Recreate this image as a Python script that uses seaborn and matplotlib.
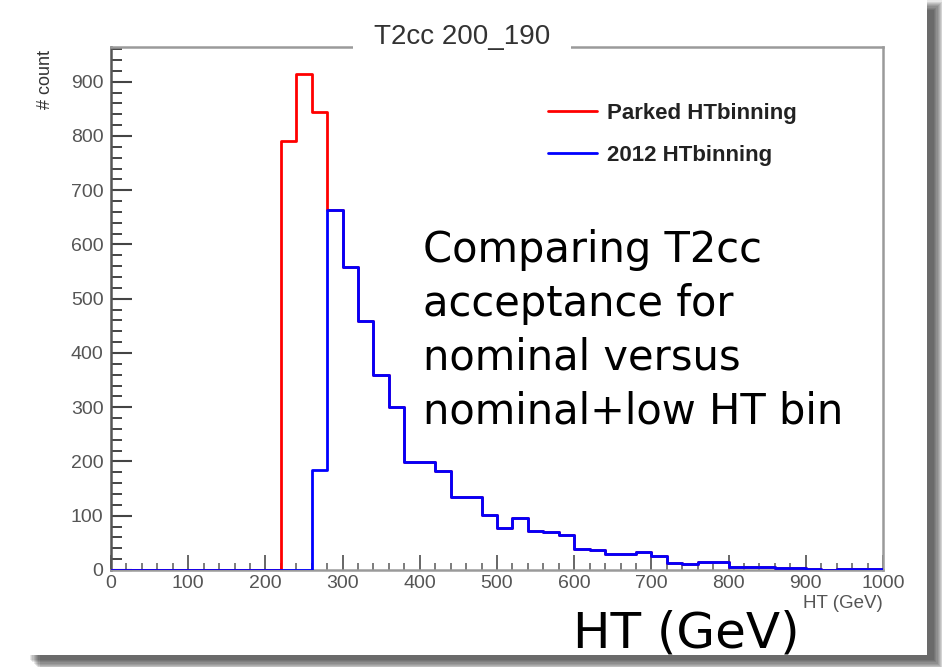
import numpy as np
import pandas as pd
import matplotlib
matplotlib.use("Agg")
import matplotlib.pyplot as plt
import seaborn as sns
from matplotlib.lines import Line2D
from matplotlib.patches import Rectangle

# ---------------- data ----------------
bin_edges = list(range(0, 1001, 20))
bin_left = bin_edges[:-1]
series_names = ["Parked HTbinning", "2012 HTbinning"]
series_colors = ["#ff0000", "#0000ff"]

# counts per 20 GeV bin (0-20, 20-40, ..., 980-1000)
blue_counts = [0, 0, 0, 0, 0, 0, 0, 0, 0, 0, 0, 0, 0,
               184, 663, 558, 459, 360, 300, 199, 199, 183, 135, 135,
               101, 78, 95, 72, 70, 65, 38, 36, 30, 30, 33, 26, 12, 11,
               15, 15, 5, 5, 5, 3, 3, 1, 0, 1, 2, 2]
red_counts = [0, 0, 0, 0, 0, 0, 0, 0, 0, 0, 0, 790, 915,
              845, 663, 558, 459, 360, 300, 199, 199, 183, 135, 135,
              101, 78, 95, 72, 70, 65, 38, 36, 30, 30, 33, 26, 12, 11,
              15, 15, 5, 5, 5, 3, 3, 1, 0, 1, 2, 2]

x_ticks = list(range(0, 1001, 100))
y_ticks = list(range(0, 901, 100))
title_text = "T2cc 200_190"
x_label = "HT (GeV)"
y_label = "# count"
note_lines = ["Comparing T2cc", "acceptance for", "nominal versus", "nominal+low HT bin"]
big_label = "HT (GeV)"

# ---------------- figure ----------------
W, H = 942, 667
sns.set_theme(style="white")
plt.rcParams["font.family"] = ["Liberation Sans", "DejaVu Sans"]

fig = plt.figure(figsize=(W / 100, H / 100), dpi=100)
fig.patch.set_facecolor("white")


def fx(px):
    return px / W


def fy(py):
    return 1 - py / H


# drop shadow (right and bottom only) + white card
for i in range(9):
    g = i * 1.2
    fig.patches.append(Rectangle((fx(30 + g), fy(660 + g)), fx(904), (650 + 2 * g) / H,
                                 transform=fig.transFigure, facecolor="black",
                                 edgecolor="none", alpha=0.09, zorder=-10))
fig.patches.append(Rectangle((fx(20), fy(655)), fx(907), 655 / H, transform=fig.transFigure,
                             facecolor="white", edgecolor="none", zorder=-5))

ax = fig.add_axes([fx(111), fy(570), fx(883 - 111), (570 - 47) / H])
ax.set_facecolor("white")
ax.patch.set_alpha(0)

df_red = pd.DataFrame({"ht": np.array(bin_left) + 10, "count": red_counts})
df_blue = pd.DataFrame({"ht": np.array(bin_left) + 10, "count": blue_counts})

sns.histplot(data=df_red, x="ht", weights="count", bins=bin_edges, element="step",
             fill=False, color=series_colors[0], linewidth=2.0, ax=ax, zorder=3)
sns.histplot(data=df_blue, x="ht", weights="count", bins=bin_edges, element="step",
             fill=False, color=series_colors[1], linewidth=2.0, ax=ax, zorder=4)

ax.set_xlim(0, 1000)
ax.set_ylim(0, 964)
ax.set_xlabel("")
ax.set_ylabel("")
ax.set_xticks(x_ticks)
ax.set_yticks(y_ticks)
ax.set_xticks(range(0, 1001, 20), minor=True)
ax.set_yticks(range(0, 961, 20), minor=True)
ax.set_xticklabels([str(v) for v in x_ticks])
ax.set_yticklabels([str(v) for v in y_ticks])

ax.tick_params(which="both", bottom=True, left=True, top=False, right=False)
ax.tick_params(axis="x", which="major", direction="in", length=11, width=1.4,
               color="#666666", labelsize=14, labelcolor="#555555", pad=3.5)
ax.tick_params(axis="x", which="minor", direction="in", length=5, width=1.2, color="#666666")
ax.tick_params(axis="y", which="major", direction="in", length=15, width=1.5,
               color="#444444", labelsize=14, labelcolor="#555555", pad=5.5)
ax.tick_params(axis="y", which="minor", direction="in", length=8, width=1.4, color="#444444")

for name, sp in ax.spines.items():
    sp.set_visible(True)
    sp.set_linewidth(1.8)
    sp.set_color("#9a9a9a")
ax.spines["left"].set_color("#555555")

# title box interrupting the top frame
ax.text(0.455, 1.0 + 3 / 523, title_text, transform=ax.transAxes, ha="center", va="baseline",
        fontsize=20, color="#333333", zorder=10, clip_on=False,
        bbox=dict(boxstyle="square,pad=0.75", facecolor="white", edgecolor="none"))

# axis titles (ROOT style)
fig.text(fx(883), fy(595), x_label, ha="right", va="top", fontsize=13.5, color="#555555")
fig.text(fx(45), fy(50), y_label, ha="center", va="top", rotation=90, fontsize=13,
         color="#333333")

# legend
handles = [Line2D([], [], color=c, lw=2.0) for c in series_colors]
fig.legend(handles, series_names, loc="upper left", bbox_to_anchor=(fx(548), fy(103)),
           bbox_transform=fig.transFigure, frameon=False, borderpad=0, borderaxespad=0,
           handlelength=2.2, handletextpad=0.45, labelspacing=0.95,
           prop=dict(family="Liberation Sans", weight="bold", size=16), labelcolor="#222222")

# big slide annotation
baselines = [262, 316, 370, 424]
for line, b in zip(note_lines, baselines):
    fig.text(fx(423), fy(b), line, ha="left", va="baseline", fontsize=30,
             family="DejaVu Sans", color="black")
fig.text(fx(686), fy(647), big_label, ha="center", va="baseline", fontsize=36,
         family="DejaVu Sans", color="black")

fig.savefig("out.png", dpi=100, facecolor="white")
